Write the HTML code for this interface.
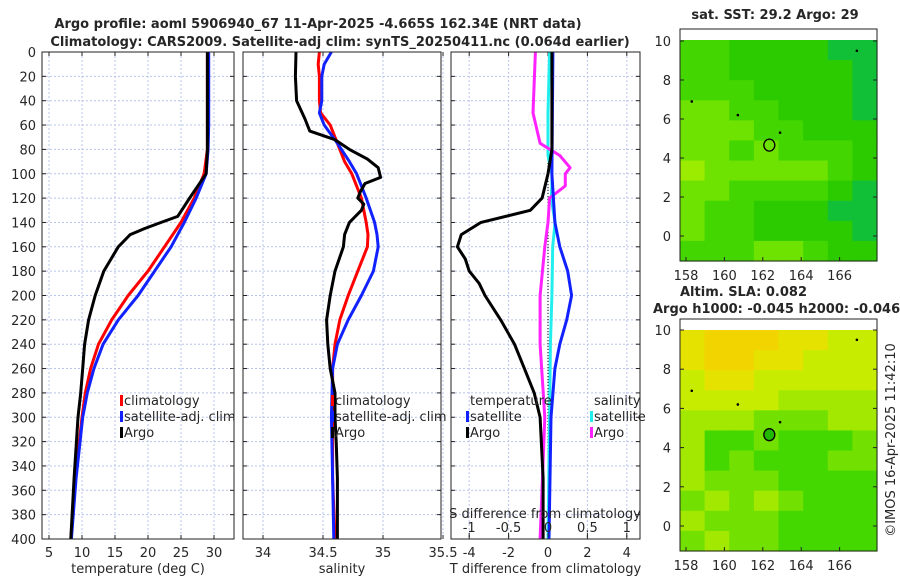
<!DOCTYPE html>
<html><head><meta charset="utf-8"><style>
body{margin:0;background:#fff}
svg{display:block;font-family:"DejaVu Sans","Liberation Sans",sans-serif}
</style></head><body>
<svg id="s" width="900" height="580" xmlns="http://www.w3.org/2000/svg"></svg>
<script>
// ---- data ----
const depths=[0,20,40,60,80,100,120,140,160,180,200,220,240,260,280,300,350,400];
const tempClim=[29,29,29,29,29,28.5,27,25,22.5,20,17,14.5,12.5,11.3,10.5,10,9,8.3];
const tempSat=[29.2,29.2,29.2,29.2,29.1,28.8,27.3,25.5,23.5,21,18.5,15.5,13.2,11.8,10.8,10.1,9.1,8.4];
const argoTDepths=[0,20,40,60,80,100,120,135,140,145,150,160,180,200,220,240,260,280,300,350,400];
const argoTemp=[29,29,29,29,29,28.8,26.3,24.5,22,19.5,17.3,15.5,13.3,12,11,10.4,10.1,9.8,9.4,8.8,8.3];
const salDepths=[0,10,20,40,50,60,75,90,100,120,140,150,160,180,200,220,240,260,300,350,400];
const salClim=[34.47,34.46,34.47,34.47,34.48,34.56,34.62,34.68,34.74,34.82,34.86,34.875,34.87,34.79,34.71,34.64,34.6,34.58,34.58,34.58,34.6];
const salSat=[34.57,34.51,34.49,34.49,34.47,34.51,34.62,34.72,34.78,34.86,34.93,34.95,34.96,34.92,34.82,34.71,34.62,34.58,34.57,34.58,34.59];
const argoSDepths=[0,20,40,55,65,72,80,88,95,103,108,115,120,125,130,140,150,160,180,200,220,240,260,280,300,320,350,400];
const argoSal=[34.275,34.27,34.28,34.35,34.39,34.6,34.72,34.87,34.96,34.98,34.85,34.81,34.79,34.84,34.82,34.72,34.68,34.67,34.6,34.56,34.53,34.54,34.56,34.6,34.6,34.61,34.62,34.62];
const dTDepths=[0,40,80,100,120,130,140,150,160,170,180,190,200,220,240,260,280,300,350,400];
const dTArgo=[0.2,0.2,0.2,0,-0.3,-0.9,-3.4,-4.4,-4.6,-4.2,-4,-3.5,-3.2,-2.4,-1.7,-1.2,-0.7,-0.4,-0.25,-0.25];
const dTSatDepths=[0,100,140,160,180,200,220,240,260,300,400];
const dTSat=[0.25,0.2,0.35,0.6,1.0,1.2,0.95,0.6,0.35,0.15,0.05];
const dSDepths=[0,50,75,85,95,100,110,120,140,160,200,240,300,400];
const dSArgo=[-0.16,-0.19,-0.1,0.15,0.28,0.22,0.22,0.02,0,-0.04,-0.1,-0.1,-0.04,-0.1];
const dSSat=[0.02,0,0,0,0.03,0.05,0.05,0.04,0.09,0.06,0.05,0.03,0.02,0];
const depthTicks=[0,20,40,60,80,100,120,140,160,180,200,220,240,260,280,300,320,340,360,380,400];
const tTicks=[5,10,15,20,25,30];
const sTicks=[34,34.5,35,35.5];
const dTTicks=[-4,-2,0,2,4];
const dSTicks=[-1,-0.5,0,0.5,1];
const latTicks=[0,2,4,6,8,10];
const lonTicks=[158,160,162,164,166];
const sstGrid=["bbaaaaee","bbaaaaae","bbbaaaae","ccbbaaae","cccbbaaa","ccbcbbba","dccccсba".replace("с","c"),"ccbbbbae","cbbaaaee","cbbaaaae","bbbccbaa"];
const slaGrid=["gfffgghh","gffgghhh","hgghhhhh","hhhhiiii","iiijjjii","ikkjkkkj","ikjkkkjj","ijjjkkkk","jijijkkk","ijjjkkkk","jijjkkkk"];
const mapColors={a:"#2ccb00",b:"#44d600",c:"#6ee200",d:"#9cec00",e:"#12c038",f:"#f2d400",g:"#e6e200",h:"#c8ec00",i:"#a2e800",j:"#72e000",k:"#44d800"};

// ---- helpers ----
const NS="http://www.w3.org/2000/svg",S=document.getElementById('s');
function el(t,a,p){const e=document.createElementNS(NS,t);for(const k in a)e.setAttribute(k,a[k]);(p||S).appendChild(e);return e;}
function txt(x,y,s,o){o=o||{};const e=el('text',{x:x,y:y,'font-size':o.fs||13,fill:o.fill||'#262626','text-anchor':o.a||'middle','font-weight':o.w||'normal'});if(o.tr)e.setAttribute('transform',o.tr);e.textContent=s;return e;}
const Y0=52,Y1=539;
const yD=d=>Y0+(Y1-Y0)*d/400;
const xT=v=>49+(v-5)*6.6;
const xS=v=>263+(v-34)*120;
const xDT=v=>548+v*19.7;
const xDS=v=>548+v*78.8;

function panel(x0,x1,name,ticks,xf,lab,showY){
  const g=el('g',{});
  
  
  el('rect',{x:x0,y:Y0,width:x1-x0,height:Y1-Y0,fill:'#fff'},g);
  depthTicks.forEach(d=>{el('line',{x1:x0,x2:x1,y1:yD(d),y2:yD(d),stroke:'#b8c4ec','stroke-width':1,'stroke-dasharray':'2,2'},g);
    el('line',{x1:x0,x2:x0+4,y1:yD(d),y2:yD(d),stroke:'#222'},g);el('line',{x1:x1-4,x2:x1,y1:yD(d),y2:yD(d),stroke:'#222'},g);
    if(showY){const t=txt(36,yD(d)+5,String(d),{a:'end'});}});
  ticks.forEach(v=>{const x=xf(v);el('line',{x1:x,x2:x,y1:Y0,y2:Y1,stroke:'#b8c4ec','stroke-dasharray':'2,2'},g);
    el('line',{x1:x,x2:x,y1:Y1,y2:Y1-4,stroke:'#222'},g);el('line',{x1:x,x2:x,y1:Y0,y2:Y0+4,stroke:'#222'},g);
    const t=txt(x,557,String(v));});
  const l=txt((x0+x1)/2,573,lab);
  return g;
}
function line(xs,ds,xf,col,name,w){
  const pts=xs.map((v,i)=>xf(v).toFixed(1)+','+yD(ds[i]).toFixed(1)).join(' ');
  const p=el('polyline',{points:pts,fill:'none',stroke:col,'stroke-width':w||3,'stroke-linejoin':'round'});
  
}
function legend(x,y,items){items.forEach((it,i)=>{if(it[0])el('rect',{x:x,y:y+i*16-10,width:3,height:11,fill:it[0]});
  const t=txt(x+4,y+i*16,it[1],{a:'start'});});}

// titles
let t=txt(318,28,'Argo profile: aoml 5906940_67 11-Apr-2025 -4.665S 162.34E (NRT data)',{w:'bold'});

t=txt(340,46,'Climatology: CARS2009. Satellite-adj clim: synTS_20250411.nc (0.064d earlier)',{w:'bold'});


// panel 1
panel(42,234,'temperature-panel',tTicks,xT,'temperature (deg C)',true);
line(tempClim,depths,xT,'#f00','temp-climatology-line');
line(tempSat,depths,xT,'#12f','temp-satellite-line');
line(argoTemp,argoTDepths,xT,'#000','temp-argo-line');
el('rect',{x:42,y:Y0,width:192,height:Y1-Y0,fill:'none',stroke:'#222'});
legend(120,405,[['#f00','climatology'],['#12f','satellite-adj. clim'],['#000','Argo']]);

// panel 2
panel(243,441,'salinity-panel',sTicks,xS,'salinity',false);
line(salClim,salDepths,xS,'#f00','sal-climatology-line');
line(salSat,salDepths,xS,'#12f','sal-satellite-line');
line(argoSal,argoSDepths,xS,'#000','sal-argo-line');
el('rect',{x:243,y:Y0,width:198,height:Y1-Y0,fill:'none',stroke:'#222'});
legend(331,405,[['#f00','climatology'],['#12f','satellite-adj. clim'],['#000','Argo']]);

// panel 3
panel(451,640,'difference-panel',dTTicks,xDT,'T difference from climatology',false);
el('line',{x1:548,x2:548,y1:160,y2:Y1,stroke:'#000','stroke-dasharray':'1,2'});
line(dSSat,dSDepths,xDS,'#2ee','sal-diff-satellite-line');
line(dSArgo,dSDepths,xDS,'#f2f','sal-diff-argo-line');
line(dTSat,dTSatDepths,xDT,'#12f','temp-diff-satellite-line');
line(dTArgo,dTDepths,xDT,'#000','temp-diff-argo-line');
el('rect',{x:451,y:Y0,width:189,height:Y1-Y0,fill:'none',stroke:'#222'});
legend(466,405,[[null,'temperature'],['#12f','satellite'],['#000','Argo']]);
legend(590,405,[[null,'salinity'],['#2ee','satellite'],['#f2f','Argo']]);
t=txt(545,518,'S difference from climatology');
dSTicks.forEach(v=>{el('line',{x1:xDS(v),x2:xDS(v),y1:533,y2:537,stroke:'#222'});const q=txt(xDS(v),532,String(v));});

// maps
function map(y0,yb,latAt,grid,name,filled){
  const g=el('g',{});
  const x0=680,x1=877,fy=y0+11;
  const lx=v=>686+(v-158)*19.2;
  const cw=(x1-x0)/8,ch=(yb-fy)/11;
  grid.forEach((r,i)=>{for(let j=0;j<8;j++)el('rect',{x:x0+j*cw,y:fy+i*ch,width:cw+0.6,height:ch+0.6,fill:mapColors[r[j]]},g);});
  el('rect',{x:x0,y:y0,width:x1-x0,height:yb-y0,fill:'none',stroke:'#222'},g);
  latTicks.forEach(v=>{const y=latAt(v);el('line',{x1:x0,x2:x0+4,y1:y,y2:y,stroke:'#222'},g);el('line',{x1:x1-4,x2:x1,y1:y,y2:y,stroke:'#222'},g);
    const q=txt(671,y+5,String(v),{a:'end'});});
  lonTicks.forEach(v=>{const x=lx(v);el('line',{x1:x,x2:x,y1:yb,y2:yb-4,stroke:'#222'},g);
    const q=txt(x,yb+19,String(v));});
  const c=el('ellipse',{cx:lx(162.34),cy:latAt(4.66),rx:5.5,ry:6,fill:filled?'#22b800':'none',stroke:'#000','stroke-width':1.3},g);
  
  [[158.3,6.9],[162.9,5.3],[166.9,9.5],[160.7,6.2]].forEach(p=>el('circle',{cx:lx(p[0]),cy:latAt(p[1]),r:1.3,fill:'#000'},g));
}
t=txt(775,19,'sat. SST: 29.2  Argo: 29',{w:'bold'});
map(29,261,v=>236-v*19.5,sstGrid,'sst-map',false);
t=txt(680,296,'Altim. SLA: 0.082',{w:'bold',a:'start'});
t=txt(653,313,'Argo h1000: -0.045 h2000: -0.046',{w:'bold',a:'start'});
map(319,551,v=>526-v*19.6,slaGrid,'sla-map',true);
t=txt(895,440,'©IMOS 16-Apr-2025 11:42:10',{tr:'rotate(-90 895 440)'});
</script>
</body></html>
